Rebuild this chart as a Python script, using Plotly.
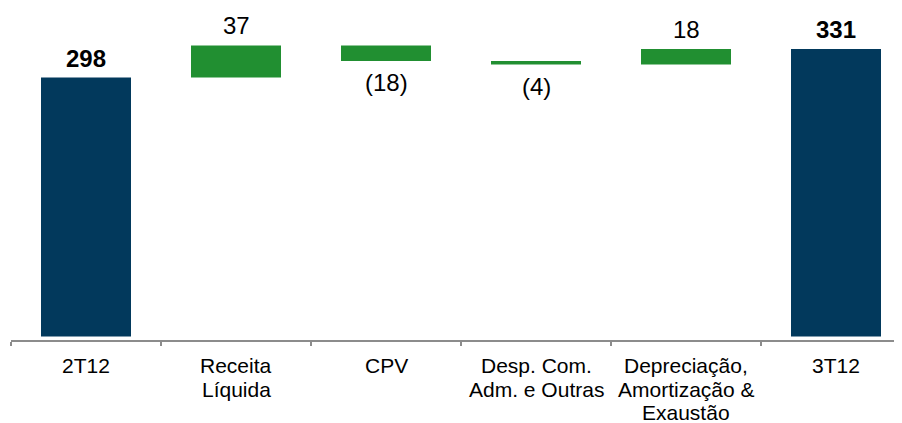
import plotly.graph_objects as go

categories = ["2T12", "Receita Líquida", "CPV", "Desp. Com. Adm. e Outras",
              "Depreciação, Amortização & Exaustão", "3T12"]
tick_lines = [["2T12"], ["Receita", "Líquida"], ["CPV"], ["Desp. Com.", "Adm. e Outras"],
              ["Depreciação,", "Amortização &", "Exaustão"], ["3T12"]]
values = [298, 37, -18, -4, 18, 331]
measures = ["absolute", "relative", "relative", "relative", "relative", "total"]

NAVY = "#02395C"
GREEN = "#218F31"
FONT = "Liberation Sans, Arial, sans-serif"

fig = go.Figure(go.Waterfall(
    x=categories,
    y=values,
    measure=measures,
    connector=dict(visible=False),
    increasing=dict(marker=dict(color=GREEN)),
    decreasing=dict(marker=dict(color=GREEN)),
    totals=dict(marker=dict(color=NAVY)),
    width=[0.6] * len(categories),
    hoverinfo="skip",
))

# value labels placed at the end of each bar (computed from the values)
annotations = []
running = 0
for cat, v, m in zip(categories, values, measures):
    if m == "relative":
        start, end = running, running + v
        running = end
    else:
        start, end = 0, v
        running = v
    label = f"({abs(v)})" if v < 0 else f"{v}"
    if m != "relative":
        label = f"<b>{label}</b>"
    if v >= 0:
        annotations.append(dict(x=cat, y=max(start, end), xref="x", yref="y",
                                text=label, showarrow=False, yanchor="bottom",
                                yshift=4, font=dict(family=FONT, size=24, color="#000000")))
    else:
        annotations.append(dict(x=cat, y=min(start, end), xref="x", yref="y",
                                text=label, showarrow=False, yanchor="top",
                                yshift=-6, font=dict(family=FONT, size=24, color="#000000")))

# category labels, one annotation per line for tighter line spacing
for cat, lines in zip(categories, tick_lines):
    for i, line in enumerate(lines):
        annotations.append(dict(x=cat, y=0, xref="x", yref="paper", text=line,
                                showarrow=False, yanchor="top", yshift=-12 - 23.5 * i,
                                font=dict(family=FONT, size=21, color="#000000")))

fig.update_layout(
    width=894, height=415,
    margin=dict(l=3, r=0, t=0, b=83, autoexpand=False),
    paper_bgcolor="white", plot_bgcolor="white",
    showlegend=False,
    font=dict(family=FONT, size=20, color="#000000"),
    annotations=annotations,
    xaxis=dict(
        type="category",
        range=[-0.5, -0.5 + 891 / 150],
        showline=True, linecolor="#8C8C8C", linewidth=1.5,
        ticks="outside", ticklen=4, tickcolor="#8C8C8C", tickwidth=1.5,
        tickson="boundaries",
        showgrid=False, zeroline=False,
        showticklabels=False,
        automargin=False,
        fixedrange=True,
    ),
    yaxis=dict(
        range=[-4, 378.1],
        visible=False, showgrid=False, zeroline=False,
        automargin=False,
        fixedrange=True,
    ),
)

fig.write_html("out.html")
